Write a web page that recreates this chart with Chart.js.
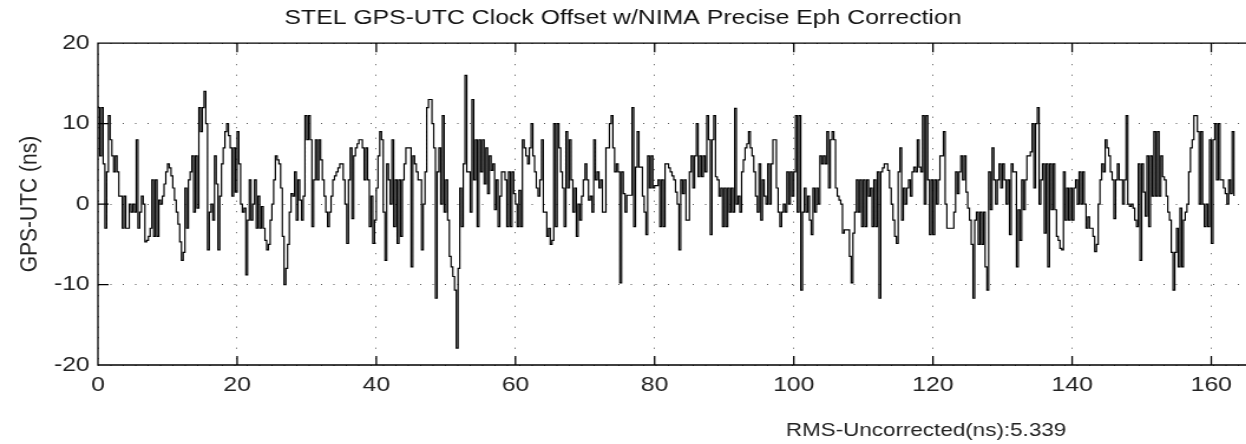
<!DOCTYPE html>
<html>
<head>
<meta charset="utf-8">
<script src="https://cdn.jsdelivr.net/npm/chart.js@4.4.0/dist/chart.umd.min.js"></script>
<style>
  html, body { margin: 0; padding: 0; background: #fff; overflow: hidden; }
  #wrap { width: 1246px; height: 444px; overflow: hidden; }
  /* the source figure is stretched sideways, so stretch the canvas the same way */
  #chart { display: block; transform: scaleX(1.18); transform-origin: 0 0; }
</style>
</head>
<body>
<div id="wrap"><canvas id="chart" width="1056" height="444"></canvas></div>
<script>
const titleText = "STEL GPS-UTC Clock Offset w/NIMA Precise Eph Correction";
const yAxisTitle = "GPS-UTC (ns)";
const rmsNote = "RMS-Uncorrected(ns):5.339";

const xTickValues = [0, 20, 40, 60, 80, 100, 120, 140, 160];
const yTickValues = [-20, -10, 0, 10, 20];

// one sample every quarter unit
const sampleStep = 0.25;
const offsetNs = [
  12, 6, 12, 5, -3, 4, 11, 8, 6, 4, 6, 4, 1, 1, -3, 1, -3, -3, 0, -1,               // 0
  0, -1, 8, -3, -1, 1, 0, -4.7, -4.5, -4, -3, 3, -4, 3, -4, 0.5, 0, 1, 2.5, 4,       // 5
  5, 4.5, 3.5, 2, 0.5, -1, -2.5, -4.7, -7, -6, 2, -3, 3, 4, 6, -1, 6, -0.5, 12, 9,   // 10
  12, 14, 10, -5.7, -1, 0, -2, 6, 2.5, -5.7, 1, 5, 7, 9, 10, 8.5, 7, 1, 7, 1.5,      // 15
  9, 5, 0, -1, -0.5, -8.8, -2, 3, -2, 0, 3, -3, 1, -3, -0.3, -3, -4.5, -5.7, -5, -2, // 20
  0, 3, 6, 5.5, 5, 2, -4, -10, -8, -5, -1, 1.3, 1, 4, -2, 3, 0.5, -2, 1, 11,         // 25
  8, 11, 8, -2.8, 3, 8, 3, 8, 5.5, 3, 1, -1, -2.8, -1, 1, 3, 3.5, 4, 4.5, 5,         // 30
  5, 3, 0, -4.9, 3, 7, -1.8, 6, 7, 7.5, 8, 8, 7, 3, 7, 3, -2.8, 1, -4.9, -2,         // 35
  2, 6, 9, 8, -1, -7, 5, 3, 0, 8, -2.8, 3, -4.9, 3, -4, 3, 5, 7, 7, 7,               // 40
  -7.8, 6, 5, 4, 3, 3, -5.7, 0, 4, 12, 13, 13, 10, 7, -11.7, 4, 7, 0, 11, -1,        // 45
  3, -2, -6.5, -7.8, -9, -10.7, -17.9, -8, 2, -2.8, 5, 16, 4, 4, -1, 13, 3, 8, -2.8, 8, // 50
  4, 8, 2.5, 7, 1.3, 6, 4.2, 5, -0.7, 3, -2.8, 1, 4, 4, 3, -2.8, 4, -2.8, 4, 1.3,    // 55
  0, -2.8, 1.7, -2.8, 8, 7, 6, 5, 7, 10, 6, 4, 2, 1, 3, 8, -1, -1, -4, -3,           // 60
  -5, -4.5, 10, -2.8, 10, 7, 4, 2, -2.8, 9, 2, 8, 3, -1, 2, -4, 0, -2, 1, 3,         // 65
  5, 3, 0.5, 1, -1, 8, 3, 4, 2, 3, -1, -1, 7, 7, 10, 11, 7, 4, 5, 4,                 // 70
  -9.8, 4, 1.3, -1, 1.1, 1.1, 1.1, 12, -2.8, 4.6, 9, 4.6, 4.6, 1, -1, -3.8, 6, 2, 6, 2, // 75
  2.3, 2.3, 3, -2.8, 3, -2.8, 5, 5, 4.5, 4, 3.5, 3, 1.5, 0, -5.7, 3, 1.3, 3, -2, -2, // 80
  4, 6, 2, 6, 10, 3.4, 6, 3.4, 6, 4, 11, 8, -3.8, 8, 11, 3.4, 3, 1, 2, -2.8,         // 85
  2, -2.8, 2, -1, 2, -1, 11.9, 0, 1, -1, 4, 5.5, 7, 7.5, 9, 7, 6, 4, 1, -1,          // 90
  5, -2, 3, 1, 0, 5, 0, 5, 8, 8, 2, -1, -2.8, -1, 0, -1, 4, 0, 4, 1,                 // 95
  4, 11, -1, 11, -10.7, -1, 2, -1, 1, -2, -3.8, 2, -1, 2, 0, 6, 5, 6, 5, 9,          // 100
  2, 8, 9, 8, 2, 1, 0.5, 0, -3.6, -3.2, -3.2, -3.2, -6.5, -9.8, -3.6, -1, 3, -1, 3, -2.8, // 105
  3, -2.8, 3, 1, 2, -2.8, 3, -2.8, 4, -11.7, 4, 4.5, 5, 5, 4.2, 2, 0, -2, -4, -4.9,  // 110
  4, 7, -2, 2, 0, 2, 3, 1, 4, 4.6, 4, 8, 4.6, 4, 11, 0, 11, 3, -3.8, 3,              // 115
  -3.8, 3, 0, 3, 6, 6, 9, 0, -3, -3, -3, -3, -1, 4, 1.3, 4, 6, 3, 6, 1.5,            // 120
  -0.5, -2, -5, -11.7, -2, -1, -5, -1, -5, -1, -7.8, -10.7, 4, -0.7, 7, 3, 0, 3, 5, 2, // 125
  5, 3, 0, 3, -3.8, 5, 4, 4, -7.8, -0.7, -4.5, 3, -0.7, 3, 6, 6, 6.5, 10, 2, 10,     // 130
  12, 0, 3, 5, -3.6, 5, -7.8, 5, -0.7, 5, -0.7, -4, -4.5, -5.5, -5.7, 4, -2, 2, -2, 2, // 135
  -2, 2, 3, 0, 4, 0, 4, 0, -3, -1.6, -3, -3, -4, -5.9, -5, 0, 3, 5, 4, 8,            // 140
  7, 6, 4, 3, -1.8, 3, 5, 3, 3, 0, 3, 11, 0, -0.3, 0, -0.5, -2, -2.8, 5, -7,         // 145
  5, 1.5, -1.5, 6, -2.8, 6, 1, 9, 1, 9, 1, 6, 3.4, 3, 1, -1, -2, -6, -10.7, -6,      // 150
  -3, -7.8, -0.5, -7.8, -2, -1, 0, 4, 7, 8, 11, 11, 9, 0, 9, 0, -2.8, 0, -2.8, 8,    // 155
  -4.9, 8, 10, 3, 10, 3, 3, 2, 1.3, 0, 3, 1.3, 9, 1                                  // 160
];

const fontFamily = '"Liberation Sans", Arial, sans-serif';

// box, inner tick marks and the RMS note, MATLAB style
const framePlugin = {
  id: "frame",
  afterDraw(chart) {
    const { ctx, chartArea: a } = chart;
    const x = chart.scales.x;
    const y = chart.scales.y;
    ctx.save();
    ctx.strokeStyle = "#000";
    ctx.lineWidth = 1.3;
    ctx.beginPath();
    ctx.moveTo(a.right + 2, a.top);
    ctx.lineTo(a.left, a.top);
    ctx.lineTo(a.left, a.bottom);
    ctx.lineTo(a.right + 2, a.bottom);
    xTickValues.forEach((v) => {
      const px = x.getPixelForValue(v);
      ctx.moveTo(px, a.bottom);
      ctx.lineTo(px, a.bottom - 9);
      ctx.moveTo(px, a.top);
      ctx.lineTo(px, a.top + 9);
    });
    yTickValues.forEach((v) => {
      const py = y.getPixelForValue(v);
      ctx.moveTo(a.left, py);
      ctx.lineTo(a.left + 9, py);
    });
    ctx.stroke();

    ctx.fillStyle = "#222";
    ctx.font = "19px " + fontFamily;
    ctx.textBaseline = "middle";
    ctx.fillText(rmsNote, 666, 431);
    ctx.restore();
  },
};

const tickFont = { family: fontFamily, size: 21 };

new Chart(document.getElementById("chart"), {
  type: "line",
  data: {
    datasets: [
      {
        data: offsetNs.map((v, i) => ({ x: i * sampleStep, y: v })),
        stepped: true,
        borderColor: "#000",
        borderWidth: 1.2,
        pointRadius: 0,
        fill: false,
      },
    ],
  },
  options: {
    responsive: false,
    animation: false,
    layout: { padding: 0 },
    plugins: {
      legend: { display: false },
      tooltip: { enabled: false },
      title: {
        display: true,
        text: titleText,
        color: "#111",
        font: { family: fontFamily, size: 21, weight: "normal" },
        padding: { top: 6, bottom: 12 },
      },
    },
    scales: {
      x: {
        type: "linear",
        min: 0,
        max: 165,
        afterBuildTicks: (s) => {
          s.ticks = xTickValues.map((v) => ({ value: v }));
        },
        afterFit: (s) => {
          s.height = 79;
        },
        ticks: { color: "#222", font: tickFont, padding: 8, maxRotation: 0, autoSkip: false },
        grid: { color: "#555", lineWidth: 1, drawTicks: false },
        border: { display: false, dash: [1, 9.5] },
      },
      y: {
        min: -20,
        max: 20,
        afterBuildTicks: (s) => {
          s.ticks = yTickValues.map((v) => ({ value: v }));
        },
        afterFit: (s) => {
          s.width = 83;
        },
        ticks: { color: "#222", font: tickFont, padding: 7 },
        grid: { color: "#555", lineWidth: 1, drawTicks: false },
        border: { display: false, dash: [1, 9.5] },
        title: {
          display: true,
          text: yAxisTitle,
          color: "#222",
          font: { family: fontFamily, size: 21 },
          padding: { top: 13, bottom: 0 },
        },
      },
    },
  },
  plugins: [framePlugin],
});
</script>
</body>
</html>
